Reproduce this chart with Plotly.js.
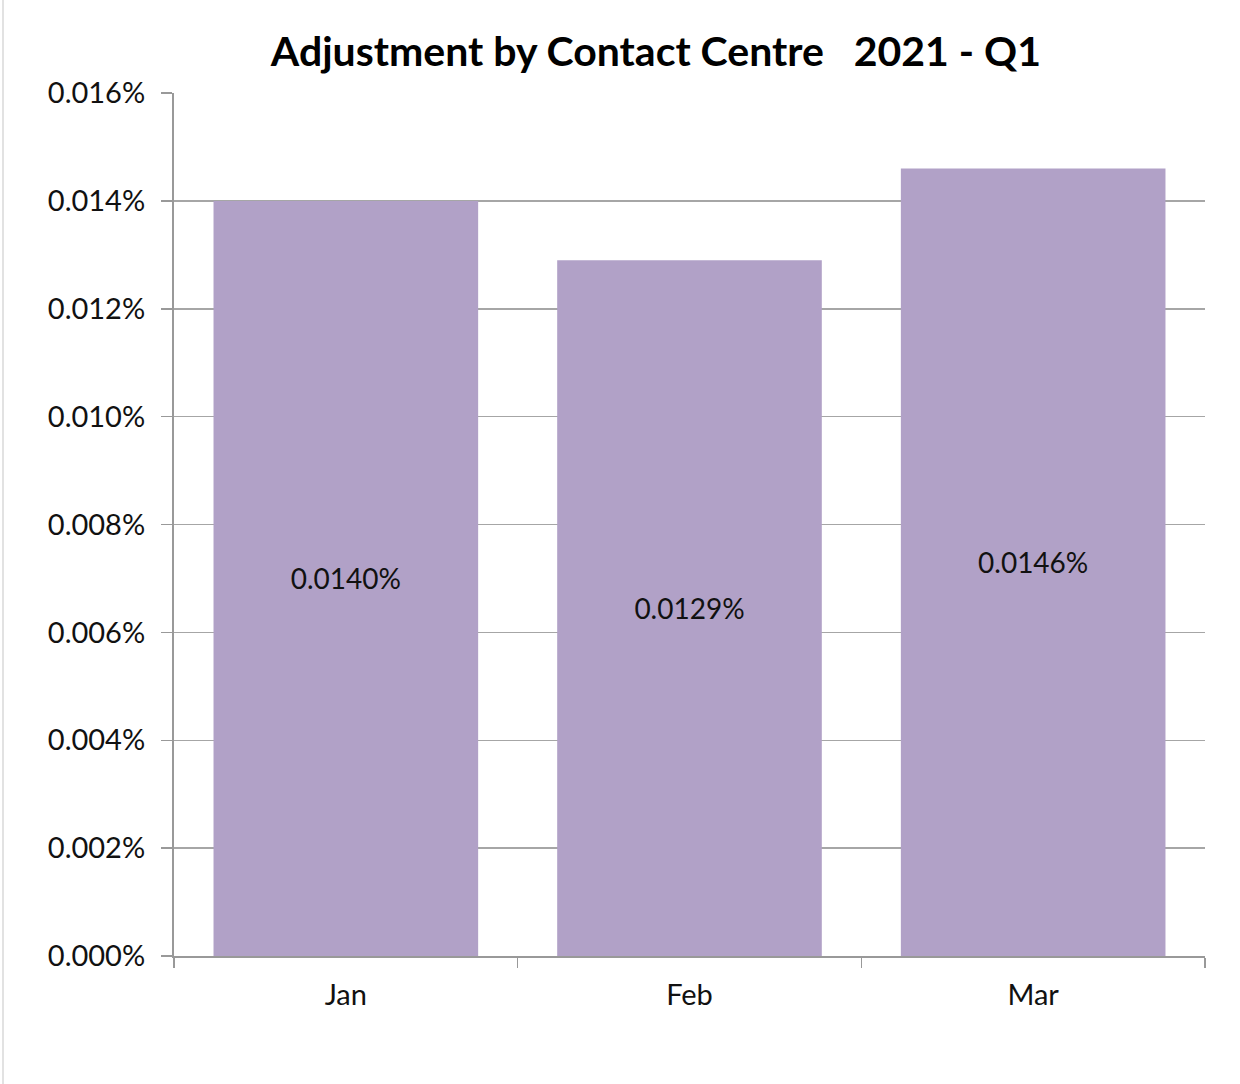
<!DOCTYPE html>
<html><head><meta charset="utf-8">
<script src="https://cdn.plot.ly/plotly-3.0.1.min.js"></script>
<style>html,body{margin:0;padding:0;background:#fff}#chart{width:1240px;height:1084px}</style>
</head><body><div id="chart"></div>
<script>
const months = ["Jan", "Feb", "Mar"];
const adjustmentRate = [0.000140, 0.000129, 0.000146];
const chartTitle = "Adjustment by Contact Centre\u00a0\u00a0\u00a02021 - Q1";

const fontFam = "Lato, 'Open Sans', sans-serif";
const trace = {
  type: "bar",
  x: months,
  y: adjustmentRate,
  marker: {color: "#b1a1c7", line: {width: 0}},
  texttemplate: "%{y:.4%}",
  textposition: "inside",
  insidetextanchor: "middle",
  textangle: 0,
  textfont: {family: fontFam, size: 28, color: "#111"},
  hoverinfo: "skip"
};
const layout = {
  width: 1240, height: 1084,
  margin: {l: 174, r: 35, t: 93, b: 128, pad: 0},
  paper_bgcolor: "#fff", plot_bgcolor: "#fff",
  title: {text: chartTitle, x: 0.529, xanchor: "center", y: 0.952, yanchor: "middle",
          font: {family: fontFam, size: 41, color: "#000", weight: "bold"}},
  bargap: 0.23,
  showlegend: false,
  xaxis: {
    showgrid: false, showline: true, linecolor: "#999", linewidth: 2,
    ticks: "outside", tickson: "boundaries", ticklen: 10, tickcolor: "#999", tickwidth: 1.5,
    ticklabelstandoff: 12,
    tickfont: {family: fontFam, size: 29, color: "#111"},
    fixedrange: true
  },
  yaxis: {
    range: [0, 0.00016], dtick: 0.00002, tickformat: ".3%",
    showgrid: true, gridcolor: "#a6a6a6", gridwidth: 1.5,
    showline: true, linecolor: "#999", linewidth: 2,
    ticks: "outside", ticklen: 11, tickcolor: "#999", tickwidth: 1.5,
    ticklabelstandoff: 10,
    tickfont: {family: fontFam, size: 29, color: "#111"},
    zeroline: false, fixedrange: true
  },
  shapes: [{type: "line", xref: "paper", yref: "paper",
            x0: -171/1031, x1: -171/1031, y0: -128/863, y1: 1 + 93/863,
            line: {color: "#d9d9d9", width: 1.5}}]
};
Plotly.newPlot("chart", [trace], layout, {displayModeBar: false, staticPlot: true});
</script></body></html>
